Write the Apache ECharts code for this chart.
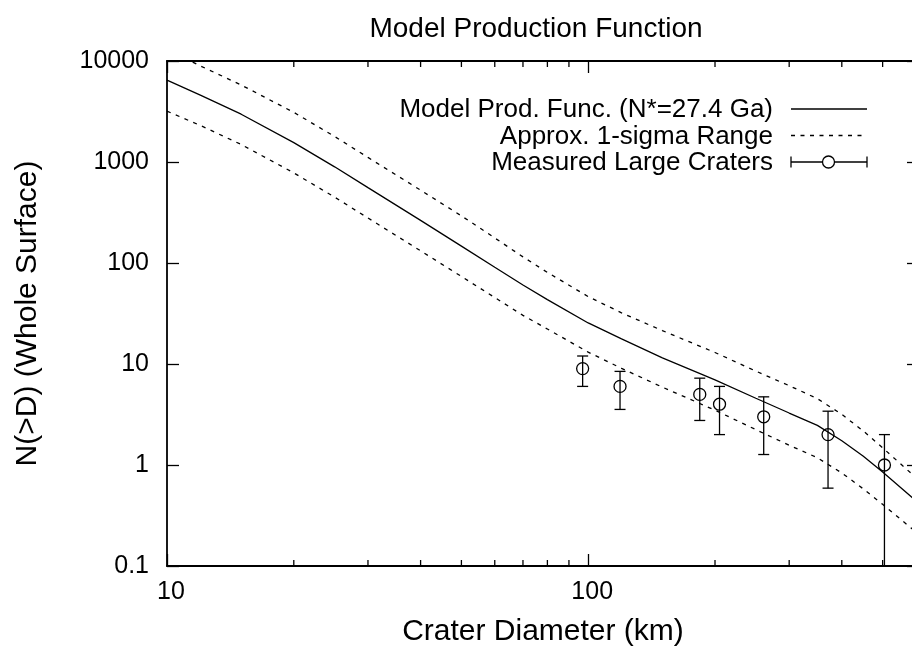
<!DOCTYPE html>
<html>
<head>
<meta charset="utf-8">
<title>Model Production Function</title>
<script src="https://cdn.jsdelivr.net/npm/echarts@6/dist/echarts.min.js"></script>
<style>
  html, body { margin: 0; padding: 0; background: #ffffff; }
  #chart { width: 912px; height: 655px; }
</style>
</head>
<body>
<div id="chart"></div>
<script>
// Crater diameters (km) at which the model curves are sampled
const diameters = [10, 12, 15, 20, 25, 30, 40, 50, 60, 70, 80, 100, 120, 150, 200, 250, 300, 350, 400, 450, 500, 600];
// Cumulative number of craters larger than D over the whole surface
const modelN = [6460, 4590, 2973, 1556, 896, 557, 264, 147, 90.8, 60.5, 43.4, 25.5, 17.7, 11.5, 6.97, 4.58, 3.27, 2.47, 1.74, 1.22, 0.853, 0.443];
const upperN = [12900, 8950, 5790, 3100, 1790, 1110, 526, 293, 177, 115, 80.7, 46.5, 32.1, 21.4, 13.0, 8.5, 6.1, 4.54, 3.17, 2.17, 1.48, 0.75];
const lowerN = [3185, 2300, 1490, 780, 449, 279, 132, 73.6, 45.5, 30.3, 22.2, 13.1, 9.06, 5.9, 3.49, 2.24, 1.57, 1.18, 0.834, 0.58, 0.408, 0.217];

// Measured large craters with their error ranges
const craterD = [97, 119, 184, 205, 261, 371, 505];
const craterN = [9, 6, 5, 4, 3, 2, 1];
const craterLow = [6.0, 3.55, 2.76, 2.0, 1.27, 0.59, 0];
const craterHigh = [12.0, 8.45, 7.24, 6.0, 4.73, 3.41, 2.0];

// Axis labels and minor tick positions
const xTickLabels = ['10', '100'];
const yTickLabels = ['0.1', '1', '10', '100', '1000', '10000'];
const xMinorTicks = [20, 30, 40, 50, 60, 70, 80, 90, 200, 300, 400, 500, 600];

const seriesNames = ['Model Prod. Func. (N*=27.4 Ga)', 'Approx. 1-sigma Range', 'Measured Large Craters'];

const X_MIN = 10, X_MAX = 610, Y_MIN = 0.1, Y_MAX = 10000;
const FONT = '"Liberation Sans", Arial, Helvetica, sans-serif';
const INK = '#000000';
const DASH = [4, 5.5];

const chart = echarts.init(document.getElementById('chart'), null, { renderer: 'canvas' });

function pairs(xs, ys) {
  return xs.map((x, i) => [x, ys[i]]);
}

const axisLineStyle = { color: INK, width: 1.8 };

function logX(position, withLabels) {
  return {
    type: 'log', logBase: 10, min: X_MIN, max: X_MAX, position: position,
    axisLine: { show: true, onZero: false, lineStyle: axisLineStyle },
    axisTick: { show: true, inside: true, length: 12, lineStyle: { color: INK, width: 1.3 } },
    minorTick: { show: false },
    splitLine: { show: false },
    axisLabel: withLabels ? {
      show: true, color: INK, fontFamily: FONT, fontSize: 25, margin: 14,
      padding: [0, 0, 0, 8], showMaxLabel: false,
      formatter: (v, i) => (i < xTickLabels.length ? xTickLabels[i] : '')
    } : { show: false }
  };
}

function logY(position, withLabels) {
  return {
    type: 'log', logBase: 10, min: Y_MIN, max: Y_MAX, position: position,
    axisLine: { show: true, onZero: false, lineStyle: axisLineStyle },
    axisTick: { show: true, inside: true, length: 12, lineStyle: { color: INK, width: 1.3 } },
    minorTick: { show: false },
    splitLine: { show: false },
    axisLabel: withLabels ? {
      show: true, color: INK, fontFamily: FONT, fontSize: 25, margin: 18,
      formatter: (v, i) => yTickLabels[i] ?? ''
    } : { show: false }
  };
}

const xBottom = logX('bottom', true);
xBottom.name = 'Crater Diameter (km)';
xBottom.nameLocation = 'middle';
xBottom.nameGap = 51;
xBottom.nameTextStyle = { color: INK, fontFamily: FONT, fontSize: 30 };

const yLeft = logY('left', true);
yLeft.name = 'N(>D) (Whole Surface)';
yLeft.nameLocation = 'middle';
yLeft.nameGap = 124;
yLeft.nameTextStyle = { color: INK, fontFamily: FONT, fontSize: 30 };

const legendRows = [109, 135.5, 162];
const legendTextRight = 773;
const legendSampleX = [791, 867];

const legendGraphics = [];
seriesNames.forEach((name, i) => {
  legendGraphics.push({
    type: 'text', silent: true,
    style: {
      text: name, x: legendTextRight, y: legendRows[i] + 1,
      align: 'right', verticalAlign: 'middle',
      fill: INK, font: '26px ' + FONT
    }
  });
});
legendGraphics.push({
  type: 'line', silent: true,
  shape: { x1: legendSampleX[0], y1: legendRows[0], x2: legendSampleX[1], y2: legendRows[0] },
  style: { stroke: INK, lineWidth: 1.3 }
});
legendGraphics.push({
  type: 'line', silent: true,
  shape: { x1: legendSampleX[0], y1: legendRows[1], x2: legendSampleX[1], y2: legendRows[1] },
  style: { stroke: INK, lineWidth: 1.3, lineDash: DASH }
});
legendGraphics.push({
  type: 'group', silent: true,
  children: [
    { type: 'line', shape: { x1: legendSampleX[0], y1: legendRows[2], x2: legendSampleX[1], y2: legendRows[2] }, style: { stroke: INK, lineWidth: 1.3 } },
    { type: 'line', shape: { x1: legendSampleX[0], y1: legendRows[2] - 5.5, x2: legendSampleX[0], y2: legendRows[2] + 5.5 }, style: { stroke: INK, lineWidth: 1.3 } },
    { type: 'line', shape: { x1: legendSampleX[1], y1: legendRows[2] - 5.5, x2: legendSampleX[1], y2: legendRows[2] + 5.5 }, style: { stroke: INK, lineWidth: 1.3 } },
    { type: 'circle', shape: { cx: (legendSampleX[0] + legendSampleX[1]) / 2 - 0.5, cy: legendRows[2], r: 6 }, style: { stroke: INK, lineWidth: 1.3, fill: '#ffffff' } }
  ]
});

const option = {
  animation: false,
  backgroundColor: '#ffffff',
  grid: { left: 167, top: 61, bottom: 89, right: -7, containLabel: false, outerBoundsMode: 'none' },
  graphic: [
    {
      type: 'text', silent: true,
      style: {
        text: 'Model Production Function', x: 536, y: 29,
        align: 'center', verticalAlign: 'middle',
        fill: INK, font: '28px ' + FONT
      }
    }
  ].concat(legendGraphics),
  xAxis: [xBottom, logX('top', false)],
  yAxis: [yLeft, logY('right', false)],
  series: [
    {
      name: seriesNames[0], type: 'line', xAxisIndex: 0, yAxisIndex: 0,
      data: pairs(diameters, modelN), symbol: 'none', smooth: false, clip: true,
      lineStyle: { color: INK, width: 1.3 }, z: 3
    },
    {
      name: 'upper', type: 'line', xAxisIndex: 0, yAxisIndex: 0,
      data: pairs(diameters, upperN), symbol: 'none', smooth: false, clip: true,
      lineStyle: { color: INK, width: 1.3, type: DASH }, z: 3
    },
    {
      name: 'lower', type: 'line', xAxisIndex: 0, yAxisIndex: 0,
      data: pairs(diameters, lowerN), symbol: 'none', smooth: false, clip: true,
      lineStyle: { color: INK, width: 1.3, type: DASH }, z: 3
    },
    {
      name: seriesNames[2], type: 'custom', xAxisIndex: 0, yAxisIndex: 0,
      encode: { x: 0, y: 1 }, clip: true, z: 4,
      data: craterD.map((d, i) => [d, craterN[i], craterLow[i], craterHigh[i]]),
      renderItem: function (params, api) {
        const d = api.value(0), n = api.value(1), lo = api.value(2), hi = api.value(3);
        const c = api.coord([d, n]);
        const top = api.coord([d, hi]);
        const hasLow = lo > Y_MIN;
        const bot = api.coord([d, hasLow ? lo : Y_MIN]);
        const cap = 5.5;
        const st = { stroke: INK, lineWidth: 1.3 };
        const children = [
          { type: 'line', shape: { x1: c[0], y1: top[1], x2: c[0], y2: bot[1] }, style: st },
          { type: 'line', shape: { x1: c[0] - cap, y1: top[1], x2: c[0] + cap, y2: top[1] }, style: st },
          { type: 'circle', shape: { cx: c[0], cy: c[1], r: 6 }, style: { stroke: INK, lineWidth: 1.3, fill: null } }
        ];
        if (hasLow) {
          children.push({ type: 'line', shape: { x1: c[0] - cap, y1: bot[1], x2: c[0] + cap, y2: bot[1] }, style: st });
        }
        return { type: 'group', children: children };
      }
    },
    {
      name: 'minor ticks', type: 'custom', xAxisIndex: 0, yAxisIndex: 0,
      encode: { x: 0, y: 1 }, clip: false, silent: true, z: 5,
      data: xMinorTicks.map(v => [v, Y_MIN]),
      renderItem: function (params, api) {
        const v = api.value(0);
        const b = api.coord([v, Y_MIN]);
        const t = api.coord([v, Y_MAX]);
        const len = 6;
        const st = { stroke: INK, lineWidth: 1.3 };
        return {
          type: 'group',
          children: [
            { type: 'line', shape: { x1: b[0], y1: b[1], x2: b[0], y2: b[1] - len }, style: st },
            { type: 'line', shape: { x1: t[0], y1: t[1], x2: t[0], y2: t[1] + len }, style: st }
          ]
        };
      }
    }
  ]
};

chart.setOption(option);
</script>
</body>
</html>
